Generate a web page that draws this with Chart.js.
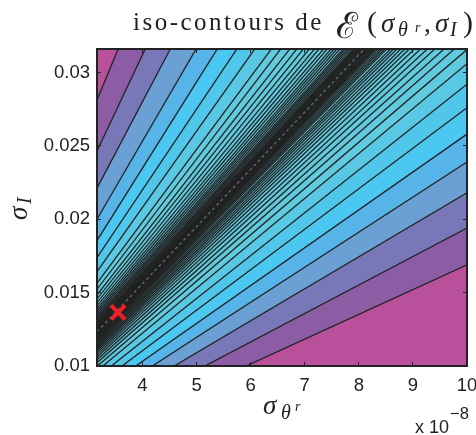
<!DOCTYPE html>
<html>
<head>
<meta charset="utf-8">
<title>iso-contours</title>
<script src="https://cdn.jsdelivr.net/npm/chart.js@4"></script>
<style>
  body { margin: 0; background: #fff; }
  #wrap { position: relative; width: 476px; height: 435px; overflow: hidden; }
  canvas { position: absolute; left: 0; top: 0; }
  .t { position: absolute; font-family: "Liberation Serif", serif; color: #222; white-space: nowrap; }
  .i { font-style: italic; }
  .rot { transform: rotate(-90deg); transform-origin: 0 0; }
  .s { position: absolute; font-family: "Liberation Sans", sans-serif; color: #222; white-space: nowrap; }
</style>
</head>
<body>
<div id="wrap">
  <canvas id="contourChart" width="476" height="435"></canvas>
  <!-- title -->
  <div class="t" style="left:133px;top:8px;font-size:25px;letter-spacing:2.5px">iso-contours de</div>
  <div class="t" style="left:336px;top:0px;font-size:36px">ℰ</div>
  <div class="t" style="left:367px;top:5px;font-size:30px">(</div>
  <div class="t i" style="left:381px;top:8px;font-size:27px">σ</div>
  <div class="t i" style="left:398px;top:18px;font-size:20px">θ</div>
  <div class="t i" style="left:415px;top:20px;font-size:14px">r</div>
  <div class="t" style="left:424px;top:8px;font-size:27px">,</div>
  <div class="t i" style="left:435px;top:8px;font-size:27px">σ</div>
  <div class="t i" style="left:450px;top:18px;font-size:20px">I</div>
  <div class="t" style="left:463px;top:5px;font-size:30px">)</div>
  <!-- x label -->
  <div class="t i" style="left:263px;top:390px;font-size:27px">σ</div>
  <div class="t i" style="left:281px;top:401px;font-size:20px">θ</div>
  <div class="t i" style="left:295px;top:399px;font-size:14px">r</div>
  <!-- y label -->
  <div class="t i rot" style="left:3px;top:220px;font-size:27px">σ</div>
  <div class="t i rot" style="left:13px;top:204px;font-size:20px">I</div>
  <!-- exponent -->
  <div class="s" style="left:415px;top:417px;font-size:18px">x 10</div>
  <div class="s" style="left:450px;top:404px;font-size:16.5px">−8</div>
</div>
<script>
// axis ranges and ticks (x in units of 1e-8)
const xRange = [3.16, 10];
const yRange = [0.01, 0.0316];
const xTicks = [4, 5, 6, 7, 8, 9, 10];
const yTicks = [0.01, 0.015, 0.02, 0.025, 0.03];
const contourSlopes = [
  0.00169, 0.00194, 0.00218, 0.00239, 0.00258, 0.00276, 0.00292, 0.00306,
  0.003156, 0.003236, 0.0033, 0.00336, 0.00341, 0.003457, 0.0035, 0.003537,
  0.00357, 0.0036, 0.00363, 0.003656, 0.00368, 0.00371, 0.003728, 0.003746,
  0.003765, 0.003784, 0.0038, 0.00381, 0.00382, 0.00383, 0.00384, 0.00385,
  0.00386, 0.00387, 0.00388, 0.00389, 0.0039, 0.00391, 0.00392, 0.00393,
  0.00394, 0.00395, 0.00396, 0.00397, 0.00398, 0.00399,
  0.004, 0.00402, 0.00404, 0.00406, 0.00408, 0.0041, 0.00413, 0.00416,
  0.00419, 0.00422, 0.00426, 0.0043, 0.00435, 0.0044, 0.00446, 0.00453,
  0.00461, 0.0047, 0.00482, 0.00495,
  0.0052, 0.0055, 0.00587, 0.00633, 0.007, 0.0078, 0.0089
];
const ridgeSlope = 0.0039;
const minimumX = [3.55];
const minimumY = [0.01365];
// bands from the outside in, everything further in uses the last colour
const bandColors = ["#b8509c", "#8c5ca4", "#7878b8", "#6aa0d4", "#56b4e8", "#4ac8f2", "#50c7ea", "#59c8e4", "#60cade"];
const inkColor = "#222222";

function rayPoints(slope) {
  return [
    { x: xRange[0], y: slope * xRange[0] },
    { x: xRange[1], y: slope * xRange[1] }
  ];
}

function bandColor(i) {
  return bandColors[Math.min(i, bandColors.length - 1)];
}

const lastLine = contourSlopes.length - 1;
const contourDatasets = contourSlopes.map((slope, i) => ({
  data: rayPoints(slope),
  showLine: true,
  pointRadius: 0,
  borderColor: inkColor,
  borderWidth: 1.3,
  order: 2,
  fill: i === lastLine ? "end" : "+1",
  backgroundColor: bandColor(Math.min(i + 1, lastLine - i))
}));

const datasets = [
  {
    data: rayPoints(contourSlopes[0]),
    showLine: true,
    pointRadius: 0,
    borderWidth: 0,
    order: 2,
    fill: "start",
    backgroundColor: bandColors[0]
  },
  ...contourDatasets,
  {
    data: rayPoints(ridgeSlope),
    showLine: true,
    pointRadius: 0,
    borderColor: "#647474",
    borderWidth: 1.2,
    borderDash: [3, 3],
    order: 1,
    fill: false
  },
  {
    data: minimumX.map((x, i) => ({ x: x, y: minimumY[i] })),
    pointStyle: "crossRot",
    pointRadius: 10,
    pointBorderWidth: 4,
    pointBorderColor: "#ee2027",
    order: 0
  }
];

function tickAxis(position, axis, range, ticks, size) {
  return {
    type: "linear",
    axis: axis,
    position: position,
    min: range[0],
    max: range[1],
    afterBuildTicks: (scale) => { scale.ticks = ticks.map((v) => ({ value: v })); },
    afterFit: (scale) => {
      if (axis === "x") scale.height = size;
      else scale.width = size;
      // keep the "10" label from shrinking the plot area, it runs off the page in the original too
      scale.getPadding = () => ({ left: 0, top: 0, right: 0, bottom: 0 });
    },
    border: { display: true, color: inkColor, width: 2, z: 1 },
    grid: { drawOnChartArea: false, drawTicks: true, tickLength: -4, tickWidth: 1, tickColor: inkColor, z: 1 },
    ticks: { display: false }
  };
}

const labelFont = { family: "'Liberation Sans', sans-serif", size: 18.5 };

const xAxis = tickAxis("bottom", "x", xRange, xTicks, 69);
xAxis.ticks = { display: true, autoSkip: false, maxRotation: 0, padding: 13, color: inkColor, font: labelFont,
  callback: (v) => String(v) };
const yAxis = tickAxis("left", "y", yRange, yTicks, 97);
yAxis.ticks = { display: true, autoSkip: false, padding: 11, color: inkColor, font: labelFont,
  callback: (v) => String(v) };

new Chart(document.getElementById("contourChart"), {
  type: "scatter",
  data: { datasets: datasets },
  options: {
    responsive: false,
    animation: false,
    layout: { padding: 0, autoPadding: false },
    plugins: {
      legend: { display: false },
      tooltip: { enabled: false },
      filler: { drawTime: "beforeDatasetsDraw", propagate: false }
    },
    scales: {
      x: xAxis,
      y: yAxis,
      xTop: tickAxis("top", "x", xRange, xTicks, 49),
      yRight: tickAxis("right", "y", yRange, yTicks, 9)
    }
  }
});
</script>
</body>
</html>
